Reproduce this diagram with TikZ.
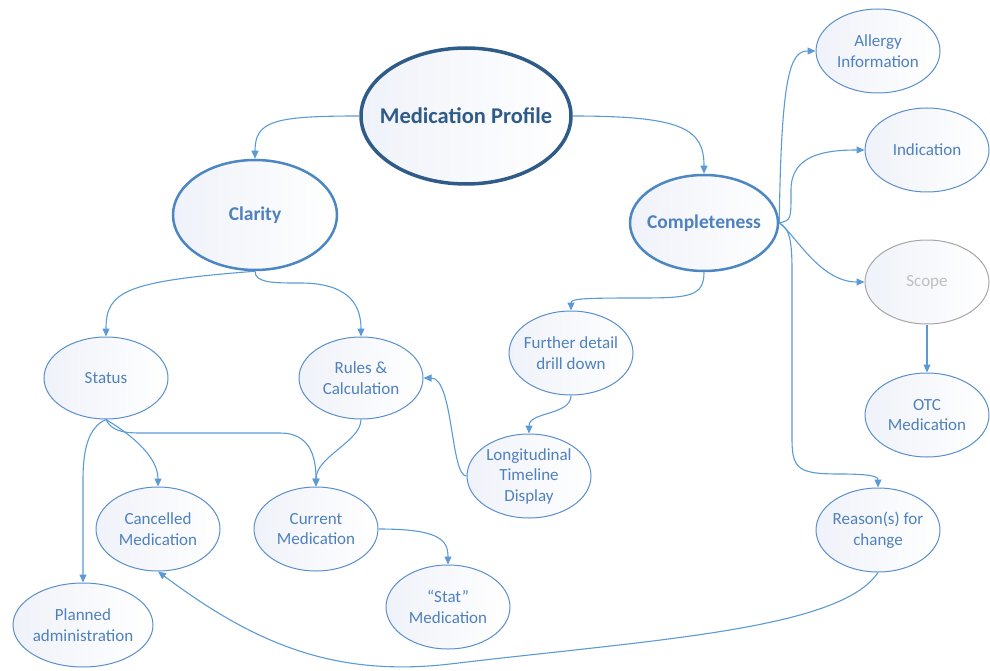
\documentclass[tikz,border=0pt]{standalone}
\usepackage{fontspec}
\setmainfont{Carlito}
\usetikzlibrary{shapes.geometric,arrows.meta}
\definecolor{edgeblue}{HTML}{5B9BD5}
\definecolor{txtblue}{HTML}{4F81BD}
\definecolor{bordblue}{HTML}{5A8FCB}
\definecolor{darkblue}{HTML}{2F5B88}
\definecolor{midblue}{HTML}{4C86C3}
\definecolor{fillblue}{HTML}{EFF2F9}
\definecolor{greyline}{HTML}{A6A6A6}
\definecolor{greytext}{HTML}{BFBFBF}
\begin{document}
\begin{tikzpicture}[x=1pt,y=-1pt,
  bubble/.style={ellipse, draw=bordblue, line width=1pt, left color=fillblue, right color=white,
    inner sep=-8pt, text=txtblue, align=center, font=\fontsize{17}{20.5}\selectfont,
    minimum width=124pt, minimum height=84pt},
  midbub/.style={bubble, draw=midblue, line width=2.5pt, inner sep=-15pt,
    font=\fontsize{19.5}{22}\selectfont\bfseries,
    minimum width=164pt, minimum height=110pt},
  mainbub/.style={bubble, draw=darkblue, line width=3.5pt, text=darkblue, inner sep=-20pt,
    font=\fontsize{22.5}{26}\selectfont\bfseries, minimum width=210pt, minimum height=136pt},
  conn/.style={draw=edgeblue, line width=1.1pt, -{Triangle[width=7pt,length=8pt]}}]
\useasboundingbox (0,0) rectangle (990,671);

% nodes
\node[mainbub] (mp) at (466,116) {Medication Profile};
\node[midbub] (cl) at (255,215) {Clarity};
\node[midbub, minimum width=148pt, minimum height=96pt] (co) at (704,223) {Completeness};
\node[bubble] (al) at (878,51) {Allergy\\Information};
\node[bubble] (in) at (927,150) {Indication};
\node[bubble, draw=greyline, text=greytext] (sc) at (927,282) {Scope};
\node[bubble] (ot) at (927,415) {OTC\\Medication};
\node[bubble] (rs) at (878,530) {Reason(s) for\\change};
\node[bubble] (fd) at (571,353) {Further detail\\drill down};
\node[bubble] (lt) at (529,476) {Longitudinal\\Timeline\\Display};
\node[bubble, minimum height=82pt] (st) at (106,378) {Status};
\node[bubble, minimum height=82pt] (rc) at (361,378) {Rules \&\\Calculation};
\node[bubble] (cm) at (158,529) {Cancelled\\Medication};
\node[bubble] (cu) at (316,529) {Current\\Medication};
\node[bubble] (sm) at (448,607) {“Stat”\\Medication};
\node[bubble, minimum width=140pt] (pa) at (83,625) {Planned\\administration};

% connectors
\draw[conn] (mp.west) .. controls +(-85,0) and +(0,-38) .. (cl.north);
\draw[conn] (mp.east) .. controls +(110,0) and +(0,-45) .. (co.north);
\draw[conn] (cl.south) .. controls +(-130,10) and +(0,-45) .. (st.north);
\draw[conn] (cl.south) .. controls +(0,12) and +(-25,0) .. (300,283) .. controls +(45,0) and +(0,-35) .. (rc.north);
\draw[conn] (co.south) .. controls +(0,24) and +(50,0) .. (640,298) .. controls +(-55,0) and +(0,-12) .. (fd.north);
\draw[conn] (fd.south) .. controls +(0,20) and +(0,-22) .. (lt.north);
\draw[conn] (lt.west) .. controls +(-16,0) and +(30,0) .. (rc.east);
\draw[conn] (st.south) .. controls +(25,15) and +(0,-30) .. (cm.north);
\draw[conn] (st.south) .. controls +(5,10) and +(-20,0) .. (140,433) -- (280,433) .. controls +(30,0) and +(0,-30) .. (cu.north);
\draw[conn] (rc.south) .. controls +(0,22) and +(0,-30) .. (cu.north);
\draw[conn] (st.south) .. controls +(-18,8) and +(0,-30) .. (83,480) -- (pa.north);
\draw[conn] (cu.east) .. controls +(60,0) and +(0,-25) .. (sm.north);
\draw[conn] (co.east) .. controls +(2,-150) and +(-25,0) .. (al.west);
\draw[conn] (co.east) .. controls +(12,-3) and +(0,30) .. (791,190) .. controls +(0,-35) and +(-40,0) .. (in.west);
\draw[conn] (co.east) .. controls +(15,10) and +(-45,0) .. (sc.west);
\draw[conn] (co.east) .. controls +(10,5) and +(0,-30) .. (792,270) -- (792,440) .. controls (792,470) and (800,474) .. (840,474) .. controls (868,474) and (878,476) .. (rs.north);
\draw[conn] (sc.south) -- (ot.north);
\draw[conn] (rs.south) .. controls (840,630) and (650,640) .. (450,664) .. controls (330,678) and (250,640) .. (cm.south);
\end{tikzpicture}
\end{document}
